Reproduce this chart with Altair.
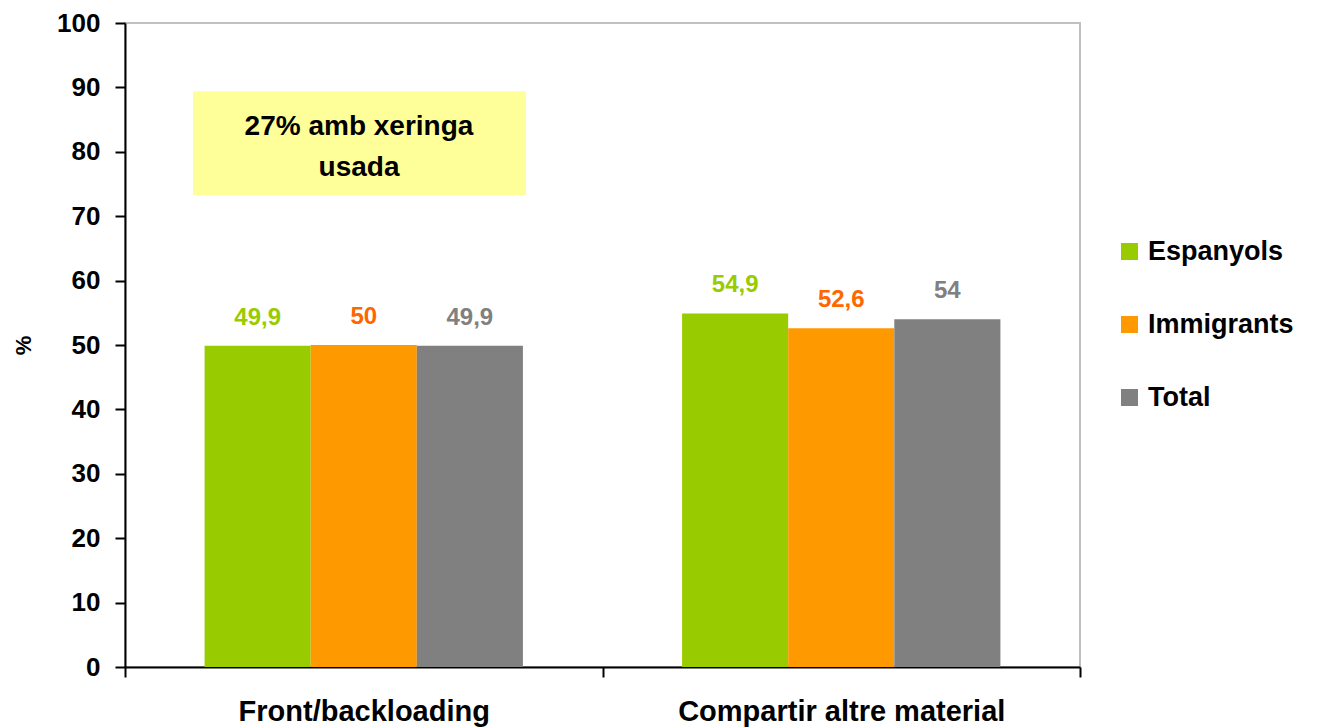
import altair as alt
import pandas as pd

categories = ["Front/backloading", "Compartir altre material"]
series = ["Espanyols", "Immigrants", "Total"]
espanyols = [49.9, 54.9]
immigrants = [50.0, 52.6]
total = [49.9, 54.0]
bar_colors = ["#99CC00", "#FF9900", "#808080"]
label_colors = ["#99CC00", "#FF6600", "#808080"]
y_ticks = list(range(0, 101, 10))
note_lines = ["27% amb xeringa", "usada"]
note_bottom = [73.3]
note_top = [89.4]
note_text_y = [82.6]

FONT = "Liberation Sans"

rows = []
for s, vals, lc in zip(series, [espanyols, immigrants, total], label_colors):
    for c, v in zip(categories, vals):
        rows.append({"cat": c, "serie": s, "value": v,
                     "label": f"{v:g}".replace(".", ","), "lc": lc})
df = pd.DataFrame(rows)

x_enc = alt.X("cat:N", sort=categories,
              scale=alt.Scale(paddingInner=0, paddingOuter=0),
              axis=alt.Axis(title=None, labelAngle=0, tickBand="extent",
                            domainColor="black", domainWidth=2,
                            tickColor="black", tickWidth=2, tickSize=10,
                            labelFont=FONT, labelFontSize=29, labelFontWeight="bold",
                            labelColor="black", labelPadding=20, labelLimit=0))
xo_enc = alt.XOffset("serie:N", sort=series,
                     scale=alt.Scale(paddingInner=0, paddingOuter=0.75))
y_enc = alt.Y("value:Q", scale=alt.Scale(domain=[0, 100], nice=False),
              axis=alt.Axis(title="%", values=y_ticks, grid=False,
                            domainColor="black", domainWidth=2,
                            tickColor="black", tickWidth=2, tickSize=10,
                            labelFont=FONT, labelFontSize=26, labelFontWeight="bold",
                            labelColor="black", labelPadding=15,
                            titleFont=FONT, titleFontSize=22, titleFontWeight="bold",
                            titleColor="black", titlePadding=21))

base = alt.Chart(df).encode(x=x_enc, xOffset=xo_enc, y=y_enc)

bars = base.mark_bar().encode(
    color=alt.Color("serie:N", sort=series,
                    scale=alt.Scale(domain=series, range=bar_colors),
                    legend=alt.Legend(title=None, orient="none", legendX=991, legendY=215,
                                      symbolType="square", symbolSize=289,
                                      symbolStrokeWidth=0, labelFont=FONT,
                                      labelFontSize=27, labelFontWeight="bold",
                                      labelColor="black", rowPadding=45,
                                      labelOffset=5, padding=0, labelLimit=0))
)

labels = base.mark_text(dy=-21, baseline="alphabetic", align="center", font=FONT,
                        fontSize=24, fontWeight="bold").encode(
    text="label:N",
    fill=alt.Fill("lc:N", scale=None, legend=None),
)

note_df = pd.DataFrame({"y1": note_bottom, "y2": note_top, "ty": note_text_y})

box = alt.Chart(note_df).mark_rect(color="#FFFF99").encode(
    x=alt.value(68), x2=alt.value(401),
    y=alt.Y("y1:Q", title="%"), y2="y2:Q",
)

note = alt.Chart(note_df).mark_text(
    text=note_lines, lineHeight=41, font=FONT, fontSize=28, fontWeight="bold",
    align="center", baseline="alphabetic", color="black",
).encode(x=alt.value(234), y=alt.Y("ty:Q", title="%"))

chart = alt.layer(box, note, bars, labels).properties(
    width=955, height=644,
    autosize=alt.AutoSizeParams(type="none"),
    padding={"left": 117, "top": 15, "right": 224, "bottom": 60},
).configure_view(stroke="#C0C0C0", strokeWidth=2)

chart.save("out.html", embed_options={"renderer": "svg", "actions": False})
